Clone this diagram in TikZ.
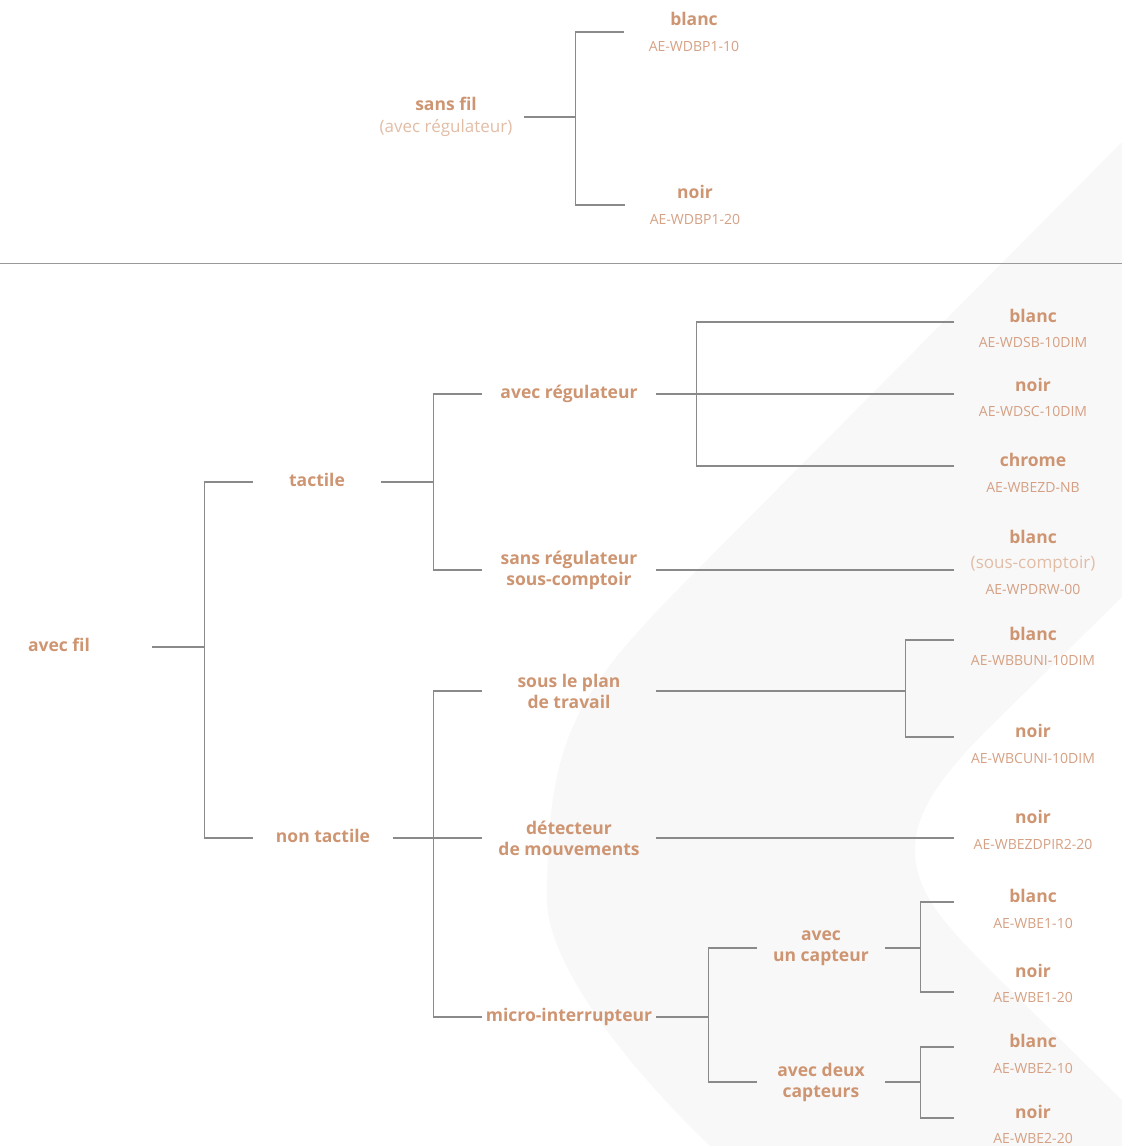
\documentclass[tikz,border=0pt]{standalone}
\usepackage{fontspec}
\setmainfont{Open Sans}

\definecolor{brun}{HTML}{CE9572}
\definecolor{brunref}{HTML}{D5A083}
\definecolor{brunpale}{HTML}{E2BDA6}
\definecolor{trait}{HTML}{8A8A8A}
\definecolor{fond}{HTML}{F8F8F8}

\tikzset{
	choix/.style={font=\bfseries\fontsize{17.5}{21}\selectfont, text=brun, inner sep=0pt, text height=12pt, text depth=3.5pt},
	choixdeux/.style={font=\bfseries\fontsize{17.5}{21}\selectfont, text=brun, inner sep=0pt, align=center},
	feuille/.style={choix, anchor=base, minimum width=158pt},
	ref/.style={font=\fontsize{14}{17}\selectfont, text=brunref, inner sep=0pt, anchor=base},
	rem/.style={font=\fontsize{17}{21}\selectfont, text=brunpale, inner sep=0pt, anchor=base},
	lien/.style={draw=trait, line width=1.1pt},
}

\begin{document}
\begin{tikzpicture}[x=1pt,y=-1pt]
	\useasboundingbox (0,0) rectangle (1122,1146);

	% fond
	\fill[fond] (1122,142) -- (707,560) .. controls (577,690) and (547,730) .. (547,900) .. controls (547,960) and (620,1060) .. (710,1146) -- (1122,1146) -- (1122,1100) -- (990,970) .. controls (940,920) and (915,890) .. (915,850) .. controls (915,820) and (930,786) .. (990,727) -- (1122,597) -- cycle;
	\draw[draw=gray!80, line width=1pt] (0,263) -- (1122,263);

	% sans fil
	\draw (446,117) node (sansfil) [choixdeux, minimum width=156pt, font=\bfseries\fontsize{17.5}{22}\selectfont] {sans fil\\{\mdseries\fontsize{17}{22}\selectfont\color{brunpale}(avec régulateur)}};
	\draw (694,32) node (t1) [choixdeux, minimum width=140pt, font=\bfseries\fontsize{17.5}{26}\selectfont] {blanc\\{\mdseries\fontsize{14}{26}\selectfont\color{brunref}AE-WDBP1-10}};
	\draw (695,205) node (t2) [choixdeux, minimum width=140pt, font=\bfseries\fontsize{17.5}{26}\selectfont] {noir\\{\mdseries\fontsize{14}{26}\selectfont\color{brunref}AE-WDBP1-20}};

	\draw[lien] (sansfil.east) -- ++(52,0);
	\draw[lien] (t1.west) -- ++(-48,0) |- (t2.west);

	% avec fil
	\draw (59,647) node (avecfil) [choix, minimum width=186pt] {avec fil};
	\draw (317,482) node (tactile) [choix, minimum width=128pt] {tactile};
	\draw (323,838) node (nontactile) [choix, minimum width=140pt] {non tactile};
	\draw (569,394) node (avecreg) [choix, minimum width=174pt] {avec régulateur};
	\draw (569,570) node (sansreg) [choixdeux, minimum width=174pt] {sans régulateur\\sous-comptoir};
	\draw (569,691) node (plan) [choixdeux, minimum width=174pt] {sous le plan\\de travail};
	\draw (569,838) node (detect) [choixdeux, minimum width=174pt] {détecteur\\de mouvements};
	\draw (569,1017) node (micro) [choix, minimum width=174pt] {micro-interrupteur};
	\draw (821,948) node (capt1) [choixdeux, minimum width=128pt] {avec\\un capteur};
	\draw (821,1082) node (capt2) [choixdeux, minimum width=128pt] {avec deux\\capteurs};

	\foreach \i/\yn/\nom/\yc/\code in {1/322/blanc/347/AE-WDSB-10DIM, 2/391/noir/416/AE-WDSC-10DIM, 3/466/chrome/492/AE-WBEZD-NB, 4/543/blanc/594/AE-WPDRW-00, 5/640/blanc/665/AE-WBBUNI-10DIM, 6/737/noir/763/AE-WBCUNI-10DIM, 7/823/noir/849/AE-WBEZDPIR2-20, 8/902/blanc/928/AE-WBE1-10, 9/977/noir/1002/AE-WBE1-20, 10/1047/blanc/1073/AE-WBE2-10, 11/1118/noir/1143/AE-WBE2-20}
	\draw (1033,\yn) node (f\i) [feuille] {\nom} (1033,\yc) node (c\i) [ref] {\code};
	\draw (1033,568) node (n4) [rem] {(sous-comptoir)};

	\draw[lien] (avecfil.east) -- ++(53,0);
	\draw[lien] (tactile.west) -- ++(-48,0) |- (nontactile.west);
	\draw[lien] (tactile.east) -- ++(53,0);
	\draw[lien] (avecreg.west) -- ++(-48,0) |- (sansreg.west);
	\draw[lien] (avecreg.east) -- (avecreg.east -| f2.west);
	\draw[lien] (f1.base west) -- ++(-257,0) |- (f3.base west);
	\draw[lien] (sansreg.east) -- (sansreg.east -| f4.west);
	\draw[lien] (nontactile.east) -- (nontactile.east -| detect.west);
	\draw[lien] (plan.west) -- ++(-48,0) |- (micro.west);
	\draw[lien] (plan.east) -- ++(250,0);
	\draw[lien] (f5.base west) -- ++(-48,0) |- (f6.base west);
	\draw[lien] (detect.east) -- (detect.east -| f7.west);
	\draw[lien] (micro.east) -- ++(53,0);
	\draw[lien] (capt1.west) -- ++(-48,0) |- (capt2.west);
	\draw[lien] (capt1.east) -- ++(36,0);
	\draw[lien] (f8.base west) -- ++(-33,0) |- ([yshift=-15pt]f9.base west);
	\draw[lien] (capt2.east) -- ++(36,0);
	\draw[lien] (f10.base west) -- ++(-33,0) |- (f11.base west);
\end{tikzpicture}
\end{document}
